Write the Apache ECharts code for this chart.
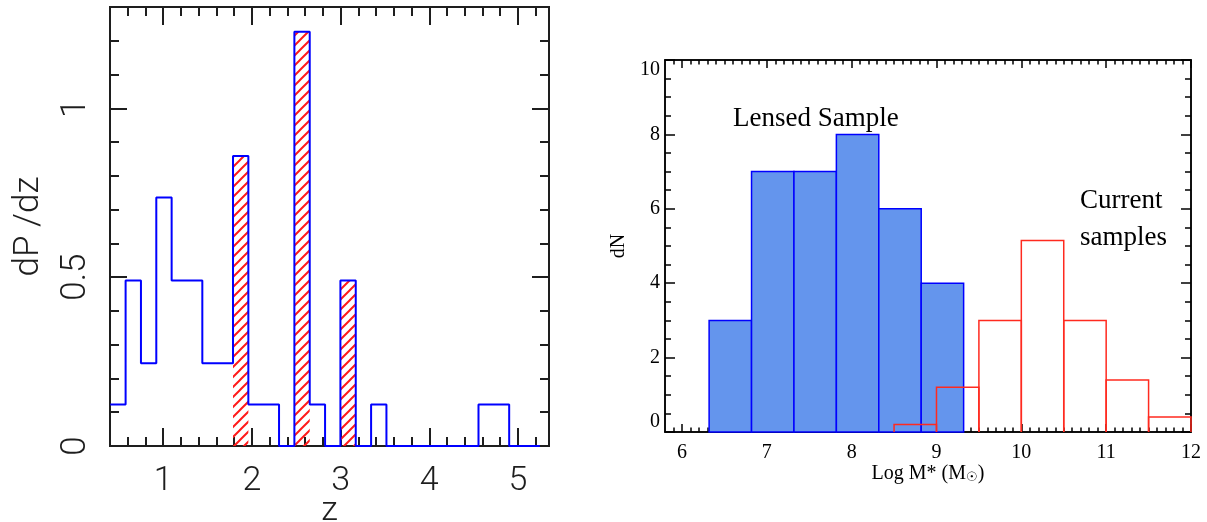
<!DOCTYPE html>
<html>
<head>
<meta charset="utf-8">
<script src="https://cdn.jsdelivr.net/npm/echarts@6/dist/echarts.min.js"></script>
<style>
html,body{margin:0;padding:0;background:#fff;}
#c{width:1207px;height:522px;}
</style>
</head>
<body>
<div id="c"></div>
<script>
// ---------- Left panel: dP/dz vs z ----------
const zEdges = [0.403, 0.576, 0.749, 0.922, 1.095, 1.268, 1.441, 1.614, 1.787, 1.960,
                2.133, 2.306, 2.479, 2.652, 2.825, 2.998, 3.171, 3.344, 3.517, 3.690,
                3.863, 4.036, 4.209, 4.382, 4.555, 4.728, 4.901, 5.074, 5.247];
const dPdz = [0.123, 0.49, 0.245, 0.736, 0.49, 0.49, 0.245, 0.245, 0.859, 0.123,
              0.123, 0, 1.227, 0.123, 0, 0.49, 0, 0.123, 0, 0,
              0, 0, 0, 0, 0.123, 0.123, 0, 0];
const hatchLo = [1.787, 2.479, 2.998];
const hatchHi = [1.960, 2.652, 3.171];
const hatchVal = [0.859, 1.227, 0.49];
const zTicks = [1, 2, 3, 4, 5];
const dpTicks = [0, 0.5, 1];

// ---------- Right panel: dN vs Log M* ----------
const lensedLo = [6.32, 6.82, 7.32, 7.82, 8.32, 8.82];
const lensedHi = [6.82, 7.32, 7.82, 8.32, 8.82, 9.32];
const lensedN = [3, 7, 7, 8, 6, 4];
const currentLo = [8.5, 9.0, 9.5, 10.0, 10.5, 11.0, 11.5];
const currentHi = [9.0, 9.5, 10.0, 10.5, 11.0, 11.5, 12.0];
const currentN = [0.2, 1.2, 3.0, 5.15, 3.0, 1.4, 0.4];
const massTicks = [6, 7, 8, 9, 10, 11, 12];
const dnTicks = [0, 2, 4, 6, 8, 10];

// minor tick positions
function minorList(lo, hi, step, majors) {
  const out = [];
  const n = Math.round((hi - lo) / step);
  for (let i = 0; i <= n; i++) {
    const v = +(lo + i * step).toFixed(4);
    if (!majors.some(m => Math.abs(m - v) < 1e-6)) out.push(v);
  }
  return out;
}
const zMinor = minorList(0.4, 5.2, 0.2, zTicks);
const dpMinor = minorList(0.1, 1.2, 0.1, [0.5, 1.0]);
const massMinor = minorList(5.9, 11.9, 0.1, massTicks);
const dnMinor = minorList(0.5, 9.5, 0.5, dnTicks);

// hatch pattern
const hatch = document.createElement('canvas');
hatch.width = 10; hatch.height = 10;
(function () {
  const g = hatch.getContext('2d');
  g.strokeStyle = '#ff1a1a';
  g.lineWidth = 2;
  g.beginPath();
  g.moveTo(-2, 12); g.lineTo(12, -2);
  g.moveTo(-7, 7); g.lineTo(7, -7);
  g.moveTo(3, 17); g.lineTo(17, 3);
  g.stroke();
})();

const LFONT = 'Roboto, "Open Sans", "DejaVu Sans", sans-serif';
const RFONT = '"Liberation Serif", "DejaVu Serif", serif';
const LCOL = '#1e1e1e';

function axis(grid, pos, min, max, ticks, len, col, w, label, name) {
  const a = {
    type: 'value', gridIndex: grid, position: pos, min: min, max: max,
    axisLine: { show: true, onZero: false, lineStyle: { color: col, width: w } },
    axisTick: { show: true, inside: true, length: len, customValues: ticks, lineStyle: { color: col, width: w } },
    axisLabel: label ? label : { show: false },
    splitLine: { show: false },
    minorTick: { show: false },
    minorSplitLine: { show: false },
    nameMoveOverlap: false
  };
  if (name) Object.assign(a, name);
  return a;
}

const G1 = { left: 110, top: 7, width: 439, height: 439, containLabel: false, outerBoundsMode: 'none' };
const G2 = { left: 665, top: 60, width: 526, height: 372, containLabel: false, outerBoundsMode: 'none' };

const chart = echarts.init(document.getElementById('c'), null, { renderer: 'canvas' });

const option = {
  backgroundColor: '#fff',
  animation: false,
  grid: [
    Object.assign({}, G1), Object.assign({}, G1),
    Object.assign({}, G2), Object.assign({}, G2)
  ],
  xAxis: [
    axis(0, 'bottom', 0.4, 5.35, zTicks, 18, LCOL, 2,
      { show: true, customValues: zTicks, margin: 18, color: LCOL, fontSize: 34, fontWeight: 300, fontFamily: LFONT },
      { name: 'z', nameLocation: 'middle', nameGap: 48,
        nameTextStyle: { color: LCOL, fontSize: 34, fontWeight: 300, fontFamily: LFONT } }),
    axis(0, 'top', 0.4, 5.35, zTicks, 18, LCOL, 2),
    axis(1, 'bottom', 0.4, 5.35, zMinor, 9, LCOL, 2),
    axis(1, 'top', 0.4, 5.35, zMinor, 9, LCOL, 2),
    axis(2, 'bottom', 5.8, 12, massTicks, 8, '#000', 1.5,
      { show: true, customValues: massTicks, margin: 11, color: '#000', fontSize: 20, fontFamily: RFONT },
      { name: 'Log M* (M{sub|☉})', nameLocation: 'middle', nameGap: 32,
        nameTextStyle: { color: '#000', fontSize: 20, fontFamily: RFONT,
          rich: { sub: { fontSize: 13, fontFamily: '"DejaVu Sans", sans-serif', color: '#000', verticalAlign: 'bottom', padding: [6, 0, 0, 0] } } } }),
    axis(2, 'top', 5.8, 12, massTicks, 8, '#000', 1.5),
    axis(3, 'bottom', 5.8, 12, massMinor, 4.5, '#000', 1.5),
    axis(3, 'top', 5.8, 12, massMinor, 4.5, '#000', 1.5)
  ],
  yAxis: [
    axis(0, 'left', 0, 1.3, dpTicks, 17, LCOL, 2,
      { show: true, customValues: dpTicks, rotate: 90, margin: 16, color: LCOL, fontSize: 35, fontWeight: 300, fontFamily: LFONT },
      { name: 'dP /dz', nameLocation: 'middle', nameGap: 63, nameRotate: 90,
        nameTextStyle: { color: LCOL, fontSize: 35, fontWeight: 300, fontFamily: LFONT } }),
    axis(0, 'right', 0, 1.3, dpTicks, 17, LCOL, 2),
    axis(1, 'left', 0, 1.3, dpMinor, 9, LCOL, 2),
    axis(1, 'right', 0, 1.3, dpMinor, 9, LCOL, 2),
    axis(2, 'left', 0, 10, dnTicks, 10, '#000', 1.5,
      { show: true, customValues: dnTicks, margin: 5, color: '#000', fontSize: 20, fontFamily: RFONT,
        verticalAlignMinLabel: 'bottom', verticalAlignMaxLabel: 'top' },
      { name: 'dN', nameLocation: 'middle', nameGap: 36, nameRotate: 90,
        nameTextStyle: { color: '#000', fontSize: 20, fontFamily: RFONT } }),
    axis(2, 'right', 0, 10, dnTicks, 10, '#000', 1.5),
    axis(3, 'left', 0, 10, dnMinor, 6, '#000', 1.5),
    axis(3, 'right', 0, 10, dnMinor, 6, '#000', 1.5)
  ],
  graphic: [
    { type: 'text', left: 733, top: 105, z: 100,
      style: { text: 'Lensed Sample', fill: '#000', font: '27px "Liberation Serif", serif' } },
    { type: 'text', left: 1080, top: 187, z: 100,
      style: { text: 'Current', fill: '#000', font: '27px "Liberation Serif", serif' } },
    { type: 'text', left: 1080, top: 224, z: 100,
      style: { text: 'samples', fill: '#000', font: '27px "Liberation Serif", serif' } }
  ],
  series: [
    {
      type: 'custom', name: 'hatched', xAxisIndex: 0, yAxisIndex: 0, z: 2, clip: true,
      data: hatchLo.map((l, i) => [l, hatchHi[i], hatchVal[i]]),
      encode: { x: [0, 1], y: 2 },
      renderItem: function (params, api) {
        const p0 = api.coord([api.value(0), 0]);
        const p1 = api.coord([api.value(1), api.value(2)]);
        return { type: 'rect',
          shape: { x: p0[0], y: p1[1], width: p1[0] - p0[0], height: p0[1] - p1[1] },
          style: { fill: { image: hatch, repeat: 'repeat' }, stroke: null } };
      }
    },
    {
      type: 'line', name: 'dPdz', xAxisIndex: 0, yAxisIndex: 0, z: 3,
      step: 'end', symbol: 'none', showSymbol: false,
      data: zEdges.map((e, i) => [e, i < dPdz.length ? dPdz[i] : dPdz[dPdz.length - 1]]),
      lineStyle: { color: '#0000ff', width: 2 }
    },
    {
      type: 'custom', name: 'Lensed Sample', xAxisIndex: 4, yAxisIndex: 4, z: 2,
      data: lensedLo.map((l, i) => [l, lensedHi[i], lensedN[i]]),
      encode: { x: [0, 1], y: 2 },
      renderItem: function (params, api) {
        const p0 = api.coord([api.value(0), 0]);
        const p1 = api.coord([api.value(1), api.value(2)]);
        return { type: 'rect',
          shape: { x: p0[0], y: p1[1], width: p1[0] - p0[0], height: p0[1] - p1[1] },
          style: { fill: '#6495ed', stroke: '#0000ff', lineWidth: 1.5 } };
      }
    },
    {
      type: 'custom', name: 'Current samples', xAxisIndex: 4, yAxisIndex: 4, z: 3,
      data: currentLo.map((l, i) => [l, currentHi[i], currentN[i]]),
      encode: { x: [0, 1], y: 2 },
      renderItem: function (params, api) {
        const p0 = api.coord([api.value(0), 0]);
        const p1 = api.coord([api.value(1), api.value(2)]);
        return { type: 'polyline',
          shape: { points: [[p0[0], p0[1]], [p0[0], p1[1]], [p1[0], p1[1]], [p1[0], p0[1]]] },
          style: { fill: null, stroke: '#ff2a1f', lineWidth: 1.5 } };
      }
    }
  ]
};
chart.setOption(option);
</script>
</body>
</html>
